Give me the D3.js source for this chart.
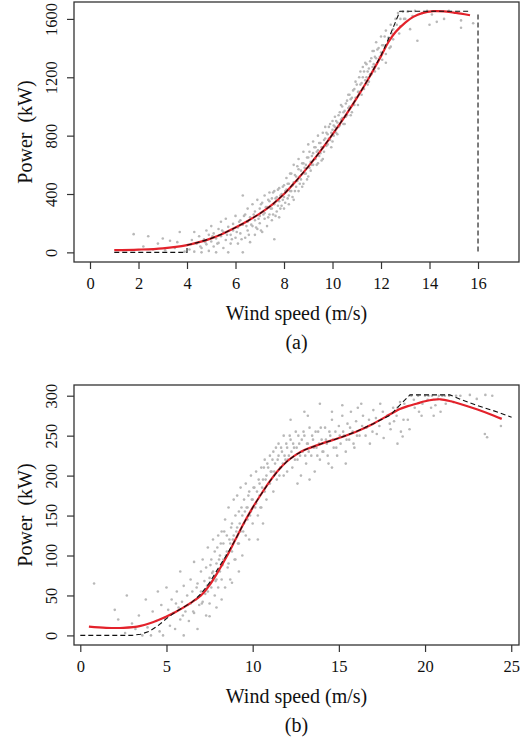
<!DOCTYPE html>
<html>
<head>
<meta charset="utf-8">
<script src="https://cdn.jsdelivr.net/npm/d3@7"></script>
<style>
  body { margin: 0; background: #fff; }
  svg { display: block; }
  text { font-family: "Liberation Serif", "DejaVu Serif", serif; fill: #111; }
</style>
</head>
<body>
<svg></svg>
<script>
const width = 524;
const height = 742;

// ---- panel (a) data ----
const pointsA = [
  [1.8,125],[2.2,40],[2.4,110],[2.8,60],[3.1,15],[3.3,80],[3.5,30],[3.7,140],[3.9,5],[3.6,70],[2.6,20],[3.0,95],
  [4.1,20],[4.2,85],[4.3,140],[4.3,5],[4.4,60],[4.5,110],[4.6,30],[4.6,0],[4.7,90],[4.8,150],[4.8,55],[4.9,120],[4.9,10],[5.0,75],[5.0,180],
  [5.1,40],[5.1,130],[5.2,95],[5.2,0],[5.3,160],[5.3,65],[5.4,210],[5.4,110],[5.5,30],[5.5,140],[5.6,85],[5.6,230],[5.7,175],[5.7,0],[5.8,120],[5.8,60],[5.9,195],[5.9,150],[6.0,100],[6.0,250],
  [6.1,170],[6.1,60],[6.2,220],[6.2,130],[6.3,390],[6.3,0],[6.3,190],[6.4,260],[6.4,100],[6.5,150],[6.5,300],[6.5,210],[6.6,70],[6.6,240],[6.7,180],[6.7,330],[6.8,120],[6.8,280],[6.8,220],[6.9,360],[6.9,160],[7.0,250],[7.0,300],[7.0,200],
  [7.1,340],[7.1,140],[7.2,270],[7.2,390],[7.2,230],[7.3,310],[7.3,180],[7.4,350],[7.4,260],[7.4,410],[7.5,300],[7.5,220],[7.5,370],[7.6,330],[7.6,420],[7.6,90],[7.7,280],[7.7,380],[7.8,350],[7.8,440],[7.8,240],[7.9,400],[7.9,320],[8.0,460],[8.0,380],[8.0,300],
  [8.1,430],[8.1,510],[8.2,390],[8.2,470],[8.2,330],[8.3,540],[8.3,420],[8.4,480],[8.4,600],[8.4,360],[8.5,520],[8.5,450],[8.6,570],[8.6,420],[8.6,640],[8.7,500],[8.7,560],[8.8,610],[8.8,470],[8.8,690],[8.9,540],[8.9,600],[9.0,650],[9.0,520],[9.0,740],
  [9.1,620],[9.1,560],[9.2,680],[9.2,760],[9.2,600],[9.3,640],[9.3,720],[9.4,700],[9.4,610],[9.4,800],[9.5,680],[9.5,750],[9.6,720],[9.6,820],[9.6,640],[9.7,780],[9.7,860],[9.8,740],[9.8,810],[9.9,880],[9.9,770],[10.0,840],[10.0,900],[10.0,760],
  [10.1,860],[10.1,930],[10.2,810],[10.2,890],[10.3,960],[10.3,870],[10.4,920],[10.4,1000],[10.5,880],[10.5,970],[10.6,1040],[10.6,940],[10.7,1000],[10.7,1080],[10.8,960],[10.8,1060],[10.9,1120],[10.9,1010],[11.0,1060],[11.0,1150],
  [11.1,1100],[11.1,1200],[11.2,1080],[11.2,1160],[11.3,1240],[11.3,1120],[11.4,1200],[11.4,1290],[11.5,1170],[11.5,1260],[11.6,1330],[11.6,1220],[11.7,1290],[11.7,1380],[11.8,1330],[11.8,1440],[11.9,1260],[11.9,1400],[12.0,1370],[12.0,1480],
  [12.1,1420],[12.2,1520],[12.2,1360],[12.3,1470],[12.4,1560],[12.4,1410],[12.5,1530],[12.6,1600],[12.7,1640],[12.8,1600],[12.9,1650],[12.8,1550],[12.5,1460],[12.2,1300],
  [13.1,1650],[13.2,1530],[13.3,1620],[13.4,1655],[13.5,1450],[13.7,1640],[13.9,1655],[14.0,1560],[14.3,1580],[14.6,1600],[14.8,1655],[15.3,1590],[15.3,1540],[15.8,1570],[14.1,1630],[13.0,1600],
  [4.55,40],[4.75,70],[5.05,110],[5.25,60],[5.45,150],[5.65,120],[5.85,90],[6.05,140],[6.15,210],[6.25,90],[6.35,250],[6.45,180],[6.55,120],[6.65,190],[6.75,260],[6.85,170],[6.95,230],[7.05,330],[7.05,150],[7.15,260],
  [7.25,310],[7.35,240],[7.35,360],[7.45,300],[7.55,260],[7.55,410],[7.65,370],[7.65,250],[7.75,320],[7.75,430],[7.85,300],[7.85,390],[7.95,450],[7.95,360],[8.05,340],[8.05,420],[8.15,370],[8.15,470],[8.25,420],[8.25,540],
  [8.35,460],[8.35,380],[8.45,420],[8.45,530],[8.55,490],[8.55,590],[8.65,470],[8.65,520],[8.75,610],[8.75,450],[8.85,540],[8.85,580],[8.95,650],[8.95,500],[9.05,580],[9.05,690],[9.15,660],[9.15,600],[9.25,640],[9.25,720],
  [9.35,690],[9.35,600],[9.45,660],[9.45,750],[9.55,720],[9.55,630],[9.65,770],[9.65,690],[9.75,730],[9.75,820],[9.85,860],[9.85,780],[9.95,820],[9.95,720],[10.05,800],[10.05,870],[10.15,900],[10.15,820],[10.25,940],[10.25,860],
  [10.35,910],[10.35,1010],[10.45,960],[10.45,880],[10.55,1020],[10.55,930],[10.65,990],[10.65,1080],[10.75,1050],[10.75,940],[10.85,1110],[10.85,1010],[10.95,1060],[10.95,1170],[11.05,1100],[11.05,1010],[11.15,1150],[11.15,1240],
  [11.25,1200],[11.25,1270],[11.35,1180],[11.35,1300],[11.45,1240],[11.45,1150],[11.55,1310],[11.55,1220],[11.65,1270],[11.65,1380],[11.75,1340],[11.75,1240],[11.85,1390],[11.95,1340],[12.05,1420],[12.05,1320],[12.15,1480],
  [12.35,1400],[12.45,1500],[12.65,1560],[12.75,1500],[12.95,1600]
];
const fitA = [
  [1,15],[2,19],[3,28],[4,50],[4.5,70],[5,96],[5.5,130],[6,170],[6.5,215],[7,265],[7.5,325],[8,400],
  [8.5,490],[9,588],[9.5,694],[10,809],[10.5,929],[11,1057],[11.5,1195],[12,1345],[12.3,1440],[12.6,1510],
  [13,1575],[13.33,1614],[13.7,1640],[14.16,1653],[14.6,1652],[15,1643],[15.3,1636],[15.67,1625]
];
const refA = [
  [1,0],[4,0],[4,50],[4.5,70],[5,96],[5.5,130],[6,170],[6.5,215],[7,265],[7.5,325],[8,400],[8.5,490],
  [9,588],[9.5,694],[10,809],[10.5,929],[11,1057],[11.5,1195],[12,1350],[12.3,1460],[12.78,1653],[15.6,1653]
];
const cutA = [[16,1630],[16,5]];

// ---- panel (b) data ----
const pointsB = [
  [0.8,65],[2.0,32],[2.2,20],[2.7,50],[2.6,3],[3.0,15],[3.2,8],[3.4,25],[3.6,0],[3.8,45],[3.9,10],[4.1,0],[4.2,30],[4.4,18],[4.5,55],[4.6,5],[4.7,38],[4.8,0],[4.9,22],[5.0,60],
  [5.1,32],[5.2,12],[5.3,45],[5.4,28],[5.5,8],[5.6,55],[5.7,35],[5.8,80],[5.8,20],[5.9,42],[6.0,0],[6.0,62],
  [6.1,30],[6.2,50],[6.3,18],[6.4,70],[6.4,40],[6.5,55],[6.6,92],[6.6,28],[6.7,45],[6.8,65],[6.8,8],[6.9,38],[7.0,80],[7.0,55],
  [7.1,95],[7.1,42],[7.2,68],[7.3,25],[7.3,85],[7.4,55],[7.4,110],[7.5,72],[7.5,40],[7.6,95],[7.6,60],[7.7,120],[7.7,80],[7.8,50],[7.8,105],[7.9,90],[7.9,70],[8.0,125],[8.0,60],
  [8.1,100],[8.1,80],[8.2,130],[8.2,70],[8.3,115],[8.3,95],[8.4,145],[8.4,60],[8.5,105],[8.5,125],[8.6,90],[8.6,160],[8.7,115],[8.7,70],[8.8,140],[8.8,105],[8.9,170],[8.9,125],[9.0,95],[9.0,150],
  [9.1,135],[9.1,175],[9.2,115],[9.2,155],[9.3,185],[9.3,130],[9.4,150],[9.4,100],[9.5,170],[9.5,140],[9.6,190],[9.6,125],[9.7,160],[9.7,145],[9.8,180],[9.8,120],[9.9,200],[9.9,155],[10.0,170],[10.0,140],
  [10.1,185],[10.2,165],[10.2,205],[10.3,150],[10.4,190],[10.4,175],[10.5,210],[10.5,160],[10.6,195],[10.7,180],[10.7,220],[10.8,200],[10.8,170],[10.9,210],[11.0,190],[11.0,225],[10.3,120],[10.6,140],
  [11.1,205],[11.2,180],[11.2,230],[11.3,215],[11.4,195],[11.5,225],[11.5,240],[11.6,210],[11.7,230],[11.8,200],[11.8,250],[11.9,220],[12.0,235],[12.0,205],
  [12.1,225],[12.2,245],[12.3,210],[12.4,235],[12.5,255],[12.6,220],[12.7,240],[12.8,200],[12.9,230],[13.0,250],[13.1,215],[13.2,240],[13.3,260],[13.4,225],[13.5,245],[13.6,205],[13.7,235],[13.8,255],[13.9,220],[14.0,245],[12.6,190],[13.3,195],[12.2,270],[13.0,280],
  [14.1,230],[14.2,260],[14.3,240],[14.4,215],[14.5,250],[14.6,270],[14.7,235],[14.8,255],[14.9,225],[15.0,262],[15.1,240],[15.2,275],[15.3,250],[15.4,230],[15.5,265],[15.6,245],[15.7,280],[15.8,255],[15.9,235],[16.0,268],[16.2,250],[16.4,275],[16.6,260],[16.8,240],[17.0,282],[14.6,210],[15.4,215],[16.1,285],
  [17.2,252],[17.4,290],[17.6,247],[17.8,275],[18.0,258],[18.2,268],[18.4,285],[18.6,255],[18.8,290],[19.1,258],[19.2,300],[19.4,285],[19.6,300],[19.8,275],[20.0,300],[18.7,249],[19.0,270],[18.4,240],
  [20.2,300],[20.4,300],[20.6,288],[20.8,300],[21.0,300],[21.2,290],[21.4,300],[21.8,300],[22.6,301],[23.0,296],[23.5,301],[23.47,252],[23.6,248],[23.9,300],[24.4,262],[20.5,275],[20.9,280],
  [5.55,40],[5.95,25],[6.25,38],[6.55,30],[6.75,60],[6.95,50],[7.05,40],[7.25,52],[7.35,62],[7.55,88],[7.65,78],[7.85,68],[7.95,110],[8.05,95],[8.15,115],[8.25,88],[8.35,130],[8.45,100],[8.55,85],[8.65,120],
  [8.75,135],[8.85,120],[8.95,95],[9.05,130],[9.15,115],[9.25,140],[9.35,160],[9.45,130],[9.55,155],[9.65,160],[9.75,175],[9.85,150],[9.95,170],[10.05,185],[10.15,160],[10.25,180],[10.35,195],[10.45,160],[10.55,185],[10.65,210],
  [10.75,195],[10.85,215],[10.95,190],[11.05,205],[11.15,220],[11.25,205],[11.35,235],[11.45,220],[11.55,200],[11.65,235],[11.75,215],[11.85,225],[11.95,240],[12.05,220],[12.15,250],[12.25,230],[12.35,240],[12.45,220],
  [12.55,235],[12.65,250],[12.75,225],[12.85,245],[12.95,255],[13.05,225],[13.15,240],[13.25,230],[13.45,250],[13.55,235],[13.65,255],[13.75,225],[13.85,240],[13.95,260],[14.05,230],[14.25,245],[14.35,225],[14.45,255],
  [14.65,245],[14.85,235],[15.05,250],[15.25,255],[15.45,245],[15.65,260],[15.85,240],[16.05,250],[16.35,262],[16.55,250],[16.75,270],[16.95,255],[17.15,272],[17.35,262],[17.55,280],[17.95,265],[18.15,285],[18.35,275],
  [18.55,292],[18.75,270],[19.35,295],[19.65,280],[19.85,290],[20.15,295],[20.35,285],[20.75,296],[21.15,300],[21.65,292],[22.05,300],
  [13.9,290],[15.2,288],[16.3,290],[14.6,280],[13.2,275],[7.5,24],[8.8,66],[9.2,80],[8.2,45],[7.9,35]
];
const fitB = [
  [0.5,11],[1.5,9.5],[2.5,9.5],[3.5,12],[4.5,19],[5.5,29],[6.5,42],[7,50],[7.5,63],[8,80],[8.5,99],
  [9,120],[9.5,141],[10,160],[10.5,177],[11,193],[11.5,207],[12,218],[12.5,226],[13,232],[14,240],
  [15,247],[16,255],[17,265],[18,277],[18.5,283],[19,287],[19.5,290],[20,293],[20.5,295],[20.9,295.5],
  [21.5,293],[22,290],[23,283],[24,275],[24.45,271]
];
const refB = [
  [0,0],[3,0],[3.5,1.5],[4,5],[4.5,12],[5,21],[5.5,29],[6.5,42],[7,52],[7.5,66],[8,84],[8.5,101],
  [9,120],[9.5,141],[10,160],[10.5,177],[11,193],[11.5,207],[12,218],[12.5,226],[13,232],[14,240],
  [15,247],[16,255],[17,265],[18,276],[18.35,284],[19.12,301],[21.44,301],[22,296],[23,288],[24,281],[25.02,273]
];

const panels = [
  { label: '(a)', box: { x0: 74, x1: 519, y0: 2, y1: 262 },
    xDomain: [-0.66, 17.69], yDomain: [-66, 1716],
    xTicks: d3.range(0, 17, 2), yTicks: d3.range(0, 1601, 400),
    points: pointsA, fit: fitA, refs: [refA, cutA] },
  { label: '(b)', box: { x0: 74, x1: 519, y0: 385, y1: 645 },
    xDomain: [-0.365, 25.45], yDomain: [-12, 313.4],
    xTicks: d3.range(0, 26, 5), yTicks: d3.range(0, 301, 50),
    points: pointsB, fit: fitB, refs: [refB] }
];

const svg = d3.select('svg')
    .attr('width', width)
    .attr('height', height);

panels.forEach(p => {
    const b = p.box;
    const x = d3.scaleLinear().domain(p.xDomain).range([b.x0, b.x1]);
    const y = d3.scaleLinear().domain(p.yDomain).range([b.y1, b.y0]);
    const g = svg.append('g');

    g.selectAll('circle')
        .data(p.points).enter()
        .append('circle')
        .attr('cx', d => x(d[0]))
        .attr('cy', d => y(d[1]))
        .attr('r', 1.3)
        .attr('fill', '#b8b8b8');

    g.append('path')
        .datum(p.fit)
        .attr('d', d3.line().x(d => x(d[0])).y(d => y(d[1])).curve(d3.curveCatmullRom))
        .attr('fill', 'none')
        .attr('stroke', '#e3222b')
        .attr('stroke-width', 2.2);

    p.refs.forEach(r => {
        g.append('path')
            .datum(r)
            .attr('d', d3.line().x(d => x(d[0])).y(d => y(d[1])))
            .attr('fill', 'none')
            .attr('stroke', '#111')
            .attr('stroke-width', 1.1)
            .attr('stroke-dasharray', '5,3');
    });

    // box
    g.append('rect')
        .attr('x', b.x0).attr('y', b.y0)
        .attr('width', b.x1 - b.x0).attr('height', b.y1 - b.y0)
        .attr('fill', 'none')
        .attr('stroke', '#333')
        .attr('stroke-width', 1.3);

    const xAxis = g.append('g')
        .attr('transform', `translate(0,${b.y1})`)
        .call(d3.axisBottom(x).tickValues(p.xTicks).tickSize(7).tickFormat(d3.format('d')));
    xAxis.select('.domain').remove();
    xAxis.selectAll('line').attr('stroke', '#333').attr('stroke-width', 1.2);
    xAxis.selectAll('text')
        .attr('y', 26.5).attr('dy', 0)
        .style('font-size', '16.5px')
        .style('font-family', '"Liberation Serif", serif')
        .attr('fill', '#111');

    const yAxis = g.append('g')
        .attr('transform', `translate(${b.x0},0)`)
        .call(d3.axisLeft(y).tickValues(p.yTicks).tickSize(7).tickFormat(d3.format('d')));
    yAxis.select('.domain').remove();
    yAxis.selectAll('line').attr('stroke', '#333').attr('stroke-width', 1.2);
    yAxis.selectAll('text')
        .attr('x', 0).attr('dy', 0)
        .attr('text-anchor', 'middle')
        .attr('transform', 'translate(-17,0) rotate(-90)')
        .style('font-size', '16.5px')
        .style('font-family', '"Liberation Serif", serif')
        .attr('fill', '#111');

    const cx = (b.x0 + b.x1) / 2;
    const cy = (b.y0 + b.y1) / 2;

    g.append('text')
        .attr('x', cx).attr('y', b.y1 + 57.5)
        .attr('text-anchor', 'middle')
        .style('font-size', '20px')
        .text('Wind speed (m/s)');

    g.append('text')
        .attr('transform', `translate(32,${cy}) rotate(-90)`)
        .attr('text-anchor', 'middle')
        .style('font-size', '20px')
        .text('Power\u00a0\u00a0(kW)');

    g.append('text')
        .attr('x', cx).attr('y', b.y1 + 87)
        .attr('text-anchor', 'middle')
        .style('font-size', '20px')
        .text(p.label);
});
</script>
</body>
</html>
